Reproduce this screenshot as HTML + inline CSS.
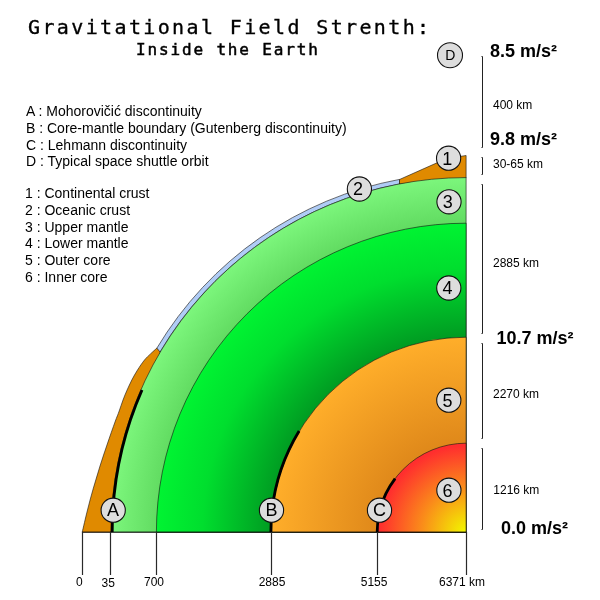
<!DOCTYPE html>
<html lang="en">
<head>
<meta charset="utf-8">
<title>Gravitational Field Strenth: Inside the Earth</title>
<style>
html,body{margin:0;padding:0;background:#fff;}
body{width:600px;height:600px;overflow:hidden;position:relative;}
svg{position:absolute;left:0;top:0;display:block;}
text{font-family:"Liberation Sans",sans-serif;fill:#000;}
.mono{font-family:"Liberation Mono",monospace;}
.leg{font-size:14px;}
.km{font-size:12px;}
.g{font-size:18px;font-weight:bold;}
.ax{font-size:12px;}
.cl{font-size:18px;text-anchor:middle;}
.cd{font-size:14px;text-anchor:middle;}
.dot{fill:#dddddd;stroke:#111;stroke-width:1.1;}
</style>
</head>
<body>
<svg width="600" height="600" viewBox="0 0 600 600">
<defs>
<radialGradient id="gUM" gradientUnits="userSpaceOnUse" cx="466" cy="532" r="356">
<stop offset="0.87" stop-color="#62dc62"/><stop offset="1" stop-color="#7df77d"/>
</radialGradient>
<radialGradient id="gLM" gradientUnits="userSpaceOnUse" cx="466" cy="532" r="310">
<stop offset="0.63" stop-color="#009c22"/><stop offset="0.85" stop-color="#00de2e"/><stop offset="1" stop-color="#00f432"/>
</radialGradient>
<radialGradient id="gOC" gradientUnits="userSpaceOnUse" cx="466" cy="532" r="195">
<stop offset="0.45" stop-color="#df881a"/><stop offset="1" stop-color="#ffae2a"/>
</radialGradient>
<radialGradient id="gIC" gradientUnits="userSpaceOnUse" cx="466" cy="532" r="89">
<stop offset="0.03" stop-color="#f2f200"/><stop offset="0.5" stop-color="#fa8c1a"/><stop offset="0.97" stop-color="#ff2e2e"/>
</radialGradient>
<clipPath id="quad"><rect x="0" y="0" width="466" height="532"/></clipPath>
</defs>
<rect width="600" height="600" fill="#ffffff"/>

<!-- crust -->
<g stroke="#111" stroke-width="0.6" stroke-linejoin="round">
<path id="crustL" d="M82.2,532.2 C83.1,528.5 85.6,517.4 87.5,510.0 C89.3,502.6 91.3,495.3 93.4,488.0 C95.5,480.7 97.7,473.3 100.0,466.0 C102.3,458.7 104.8,451.3 107.3,444.0 C109.8,436.7 113.0,427.5 115.0,422.0 C117.0,416.5 117.9,414.7 119.2,411.0 C120.5,407.3 121.7,403.5 123.0,400.0 C124.3,396.5 125.6,393.3 127.1,390.0 C128.6,386.7 130.1,383.3 131.8,380.0 C133.5,376.7 135.4,373.3 137.5,370.0 C139.6,366.7 142.3,362.7 144.5,360.0 C146.7,357.3 148.4,355.9 150.5,353.9 C152.6,351.9 155.8,349.1 156.9,348.1 L160.5,351.5 L111,532.2 Z" fill="#e08a00"/>
<path id="ocean" d="M156.9,348.1 A359.6,359.6 0 0 1 399.5,179.4 L399.5,184 A355,355 0 0 0 160,352 Z" fill="#b0ccf6"/>
<path id="crustR" d="M399.5,179.5 L437,162.8 C448,158.6 458,156.6 466.1,155.5 L466.1,178 L399.5,184 Z" fill="#e08a00"/>
<!-- mantle & core -->
<path d="M466.1,532.2 L111,532.2 A355.1,354.6 0 0 1 466.1,177.6 Z" fill="url(#gUM)"/>
<path d="M466.1,532.2 L156.4,532.2 A309.7,309 0 0 1 466.1,223.2 Z" fill="url(#gLM)"/>
<path d="M466.1,532.2 L271.1,532.2 A195,195 0 0 1 466.1,337.2 Z" fill="url(#gOC)"/>
<path d="M466.1,532.2 L377.1,532.2 A89,89 0 0 1 466.1,443.2 Z" fill="url(#gIC)"/>
</g>
<line x1="82" y1="532.2" x2="466.6" y2="532.2" stroke="#000" stroke-width="0.8"/>

<!-- thick discontinuity arcs -->
<g fill="none" stroke="#000" stroke-width="2.85" stroke-linecap="butt">
<path d="M112.2,532 A353.8,353.8 0 0 1 142,390"/>
<path d="M270.9,532 A195.1,195.1 0 0 1 299.1,431.0"/>
<path d="M377.2,532 A88.8,88.8 0 0 1 395.1,478.6"/>
</g>

<!-- axis ticks -->
<g stroke="#2a2a2a" stroke-width="1.2">
<line x1="82.5" y1="532" x2="82.5" y2="575"/>
<line x1="110.5" y1="532" x2="110.5" y2="575"/>
<line x1="156.5" y1="532" x2="156.5" y2="575"/>
<line x1="271.5" y1="532" x2="271.5" y2="575"/>
<line x1="377.5" y1="532" x2="377.5" y2="575"/>
<line x1="466.5" y1="532" x2="466.5" y2="575"/>
</g>
<g class="ax">
<text x="79.3" y="586" class="ax" text-anchor="middle">0</text>
<text x="108.2" y="587" class="ax" text-anchor="middle">35</text>
<text x="154" y="586" class="ax" text-anchor="middle">700</text>
<text x="272" y="586" class="ax" text-anchor="middle">2885</text>
<text x="374.1" y="586" class="ax" text-anchor="middle">5155</text>
<text x="439" y="586" class="ax">6371 km</text>
</g>

<!-- brackets -->
<g stroke="#222" stroke-width="1" fill="none">
<path d="M481.5,56.5 H482.5 V147.5 H481.5"/>
<path d="M481.5,157.5 H482.5 V174.5 H481.5"/>
<path d="M481.5,184.5 H482.5 V333.5 H481.5"/>
<path d="M481.5,343.5 H482.5 V438.5 H481.5"/>
<path d="M481.5,448.5 H482.5 V529.5 H481.5"/>
</g>

<!-- right labels -->
<text x="490" y="57" class="g">8.5 m/s²</text>
<text x="493" y="109" class="km">400 km</text>
<text x="490" y="145" class="g">9.8 m/s²</text>
<text x="493" y="167.5" class="km">30-65 km</text>
<text x="493" y="267" class="km">2885 km</text>
<text x="496.5" y="343.5" class="g">10.7 m/s²</text>
<text x="493" y="398" class="km">2270 km</text>
<text x="493.3" y="493.6" class="km">1216 km</text>
<text x="501" y="533.5" class="g">0.0 m/s²</text>

<!-- markers -->
<g>
<circle class="dot" cx="450" cy="55.3" r="12.5"/><text x="450.3" y="60.3" class="cd">D</text>
<circle class="dot" cx="448.6" cy="158.2" r="12.1"/><text x="447.3" y="164.6" class="cl">1</text>
<circle class="dot" cx="359.4" cy="189" r="12.1"/><text x="358.1" y="195.4" class="cl">2</text>
<circle class="dot" cx="449" cy="201.8" r="12.1"/><text x="447.7" y="208.2" class="cl">3</text>
<circle class="dot" cx="448.8" cy="288" r="12.1"/><text x="447.5" y="294.4" class="cl">4</text>
<circle class="dot" cx="448.8" cy="400.2" r="12.1"/><text x="447.5" y="406.6" class="cl">5</text>
<circle class="dot" cx="448.9" cy="490.2" r="12.1"/><text x="447.6" y="496.6" class="cl">6</text>
<circle class="dot" cx="113.2" cy="510.2" r="12.1"/><text x="113.1" y="515.8" class="cl">A</text>
<circle class="dot" cx="271.5" cy="510.2" r="12.1"/><text x="271.4" y="515.8" class="cl">B</text>
<circle class="dot" cx="379.5" cy="510.2" r="12.1"/><text x="379.4" y="515.8" class="cl">C</text>
</g>

<!-- titles -->
<text x="28" y="33.5" class="mono" style="font-family:'DejaVu Sans Mono','Liberation Mono',monospace;font-size:20px;letter-spacing:2.37px;stroke:#000;stroke-width:0.35px">Gravitational Field Strenth:</text>
<text x="136" y="55.2" class="mono" style="font-family:'DejaVu Sans Mono','Liberation Mono',monospace;font-size:16px;letter-spacing:1.85px;stroke:#000;stroke-width:0.5px">Inside the Earth</text>

<!-- legend -->
<g class="leg">
<text x="26" y="116">A : Mohorovičić discontinuity</text>
<text x="26" y="133">B : Core-mantle boundary (Gutenberg discontinuity)</text>
<text x="26" y="150">C : Lehmann discontinuity</text>
<text x="26" y="166">D : Typical space shuttle orbit</text>
<text x="25" y="198">1 : Continental crust</text>
<text x="25" y="215">2 : Oceanic crust</text>
<text x="25" y="232">3 : Upper mantle</text>
<text x="25" y="248">4 : Lower mantle</text>
<text x="25" y="265">5 : Outer core</text>
<text x="25" y="282">6 : Inner core</text>
</g>
</svg>
</body>
</html>
